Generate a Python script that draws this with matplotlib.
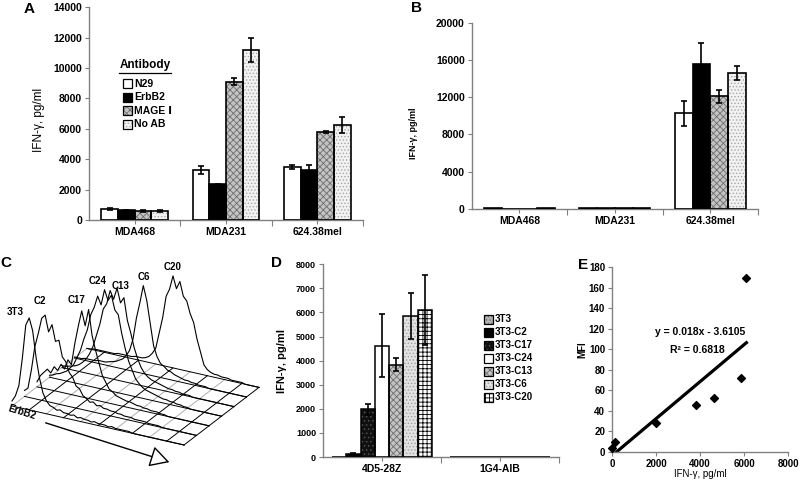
import numpy as np
import matplotlib.pyplot as plt
from matplotlib.patches import Rectangle, FancyArrowPatch

plt.rcParams['font.family'] = ['Liberation Sans', 'DejaVu Sans']
plt.rcParams['hatch.linewidth'] = 0.6

# --- Panel A / B data (IFN-gamma, pg/ml) ---
cell_lines = ['MDA468', 'MDA231', '624.38mel']
antibodies = ['N29', 'ErbB2', 'MAGE Ⅰ', 'No AB']
a_n29 = [730, 3300, 3500]
a_erbb2 = [650, 2350, 3300]
a_mage = [570, 9100, 5780]
a_noab = [600, 11200, 6250]
a_n29_err = [80, 280, 150]
a_erbb2_err = [40, 30, 300]
a_mage_err = [60, 220, 60]
a_noab_err = [50, 780, 550]

b_n29 = [60, 80, 10300]
b_erbb2 = [40, 60, 15600]
b_mage = [40, 60, 12100]
b_noab = [60, 80, 14600]
b_n29_err = [np.nan, np.nan, 1340]
b_erbb2_err = [np.nan, np.nan, 2230]
b_mage_err = [np.nan, np.nan, 700]
b_noab_err = [np.nan, np.nan, 720]

# --- Panel D / E data ---
effectors = ['4D5-28Z', '1G4-AIB']
clones = ['3T3', '3T3-C2', '3T3-C17', '3T3-C24', '3T3-C13', '3T3-C6', '3T3-C20']
d_4d5 = [15, 120, 1980, 4620, 3840, 5850, 6110]
d_4d5_err = [np.nan, 30, 220, 1300, 250, 970, 1450]
d_1g4 = [20, 20, 20, 20, 20, 20, 20]
e_ifn = [0, 120, 1980, 4620, 3840, 5850, 6110]
e_mfi = [4, 10, 28, 53, 46, 72, 169]
fit_slope = 0.018
fit_icpt = -3.6105
fit_r2 = 0.6818

# --- Panel C histograms (ErbB2 staining, 51 channels, relative counts) ---
hist_labels = ['3T3', 'C2', 'C17', 'C24', 'C13', 'C6', 'C20']
erbb2_bins = np.arange(51) / 50
h_3t3 = [5, 11, 22, 50, 84, 92, 80, 54, 34, 20, 13, 9, 8, 6, 7, 5, 5, 4, 5, 3, 4, 3, 3, 2, 3,
         2, 2, 2, 1, 2, 1, 1, 1, 1, 1, 0, 0, 0, 0, 0, 0, 0, 0, 0, 0, 0, 0, 0, 0, 0, 0]
h_c2 = [6, 9, 28, 52, 66, 82, 86, 70, 78, 62, 64, 48, 44, 34, 30, 22, 20, 14, 12, 9, 10, 7, 8, 6, 6,
        5, 5, 4, 4, 3, 3, 3, 2, 2, 2, 2, 1, 1, 1, 1, 0, 0, 0, 0, 0, 0, 0, 0, 0, 0, 0]
h_c17 = [5, 12, 16, 20, 17, 24, 21, 28, 24, 34, 30, 52, 70, 86, 72, 89, 64, 50, 38, 26, 20, 14, 12, 9, 8,
         7, 6, 6, 5, 4, 4, 3, 3, 2, 2, 2, 1, 1, 0, 0, 0, 0, 0, 0, 0, 0, 0, 0, 0, 0, 0]
h_c24 = [2, 3, 5, 6, 8, 10, 14, 18, 26, 34, 46, 56, 72, 80, 92, 84, 100, 90, 96, 82, 78, 60, 46, 34, 26,
         18, 14, 11, 9, 8, 7, 6, 5, 4, 4, 3, 3, 2, 2, 1, 1, 0, 0, 0, 0, 0, 0, 0, 0, 0, 0]
h_c13 = [2, 2, 3, 4, 5, 7, 10, 14, 20, 28, 40, 52, 68, 74, 88, 80, 92, 78, 84, 62, 50, 36, 26, 18, 13,
         10, 8, 7, 6, 5, 4, 3, 3, 2, 2, 1, 1, 1, 0, 0, 0, 0, 0, 0, 0, 0, 0, 0, 0, 0, 0]
h_c6 = [1, 1, 1, 2, 2, 2, 2, 3, 3, 3, 4, 5, 6, 8, 10, 14, 20, 32, 54, 70, 88, 74, 52, 30, 20,
        14, 12, 9, 8, 6, 5, 4, 3, 3, 2, 2, 1, 1, 1, 0, 0, 0, 0, 0, 0, 0, 0, 0, 0, 0, 0]
h_c20 = [0, 0, 1, 1, 1, 1, 1, 1, 1, 2, 2, 2, 2, 2, 3, 3, 3, 4, 6, 10, 16, 32, 48, 70, 78,
         92, 80, 88, 74, 70, 58, 50, 34, 22, 10, 6, 4, 3, 3, 2, 2, 2, 1, 1, 1, 1, 0, 0, 0, 0, 0]
histograms = [h_3t3, h_c2, h_c17, h_c24, h_c13, h_c6, h_c20]

# fill styles: (face, hatch, hatch colour)
WHITE = ('white', None, 'white')
BLACK = ('black', None, 'black')
MAGE = ('#c4c4c4', 'xxxxx', '#6e6e6e')
NOAB = ('#f2f2f2', '.....', '#a8a8a8')
d_styles = [('#b4b4b4', '.....', '#707070'), BLACK, ('#101010', '....', '#505050'), WHITE,
            MAGE, ('#e2e2e2', '.....', '#a0a0a0'), ('white', '++++', 'black')]

GREY = '#808080'

fig = plt.figure(figsize=(8, 4.9), dpi=100)
ov = fig.add_axes([0, 0, 1, 1])
ov.set_xlim(0, 800)
ov.set_ylim(490, 0)
ov.axis('off')


def px_axes(x0, y0, x1, y1):
    return fig.add_axes([x0 / 800, 1 - y1 / 490, (x1 - x0) / 800, (y1 - y0) / 490], facecolor='none')


def style_axes(ax, size):
    for s in ['top', 'right']:
        ax.spines[s].set_visible(False)
    for s in ['left', 'bottom']:
        ax.spines[s].set_color(GREY)
        ax.spines[s].set_linewidth(1.0)
    ax.tick_params(colors=GREY, labelcolor='black', length=3, width=0.8, labelsize=size, pad=2)
    for t in ax.get_xticklabels() + ax.get_yticklabels():
        t.set_fontweight('bold')


def styled_bar(ax, x, h, w, st, lw=1.2):
    fc, hatch, hc = st
    ax.bar(x, h, w, color=fc, edgecolor=hc, hatch=hatch, linewidth=0, zorder=2)
    ax.bar(x, h, w, fill=False, edgecolor='black', linewidth=lw, zorder=3)


def err(ax, x, h, e):
    x = np.asarray(x, float); h = np.asarray(h, float); e = np.asarray(e, float)
    ok = np.isfinite(e)
    ax.errorbar(x[ok], h[ok], yerr=e[ok], fmt='none', ecolor='black', elinewidth=1.2,
                capsize=2.5, capthick=1.2, zorder=4)


def category_axis(ax, labels, pad):
    n = len(labels)
    ax.set_xlim(-0.5, n - 0.5)
    ax.set_xticks(range(n))
    ax.set_xticklabels(labels, fontweight='bold')
    ax.set_xticks([i + 0.5 for i in range(n)], minor=True)
    ax.tick_params(axis='x', which='major', length=0, pad=pad)
    ax.tick_params(axis='x', which='minor', length=4, color=GREY, width=0.8)


def legend_patch(x, y, st, w=9, h=9):
    fc, hatch, hc = st
    ov.add_patch(Rectangle((x, y), w, h, facecolor=fc, edgecolor=hc, hatch=hatch, linewidth=0))
    ov.add_patch(Rectangle((x, y), w, h, fill=False, edgecolor='black', linewidth=0.9))


# ---------------- Panel A ----------------
axA = px_axes(89, 7.3, 363, 220)
xa = np.arange(3)
bw = 0.182
series_a = [(a_n29, a_n29_err, WHITE), (a_erbb2, a_erbb2_err, BLACK),
            (a_mage, a_mage_err, MAGE), (a_noab, a_noab_err, NOAB)]
for i, (vals, e, st) in enumerate(series_a):
    xs = xa + (i - 1.5) * bw
    styled_bar(axA, xs, vals, bw, st)
    err(axA, xs, vals, e)
axA.set_ylim(0, 14000)
axA.set_yticks(range(0, 14001, 2000))
category_axis(axA, cell_lines, 6)
style_axes(axA, 7.5)

# legend A
ov.text(145, 65, 'Antibody', fontsize=8.5, fontweight='bold', ha='center', va='center')
ov.plot([119, 171], [73, 73], color='black', lw=0.9)
for i, (lab, st) in enumerate(zip(antibodies, [WHITE, BLACK, MAGE, NOAB])):
    yy = 84 + i * 13.4
    legend_patch(123, yy - 4.5, st)
    ov.text(134, yy, lab, fontsize=7.5, fontweight='bold', va='center', ha='left')
ov.text(39, 120, 'IFN-γ, pg/ml', rotation=90, fontsize=8.5, ha='center', va='center')

# ---------------- Panel B ----------------
axB = px_axes(471.7, 22.7, 758, 209)
bwb = 0.186
series_b = [(b_n29, b_n29_err, WHITE), (b_erbb2, b_erbb2_err, BLACK),
            (b_mage, b_mage_err, MAGE), (b_noab, b_noab_err, NOAB)]
for i, (vals, e, st) in enumerate(series_b):
    xs = xa + (i - 1.5) * bwb
    styled_bar(axB, xs, vals, bwb, st)
    err(axB, xs, vals, e)
axB.set_ylim(0, 20000)
axB.set_yticks(range(0, 20001, 4000))
category_axis(axB, cell_lines, 6)
style_axes(axB, 7.5)
ov.text(413, 133, 'IFN-γ, pg/ml', rotation=90, fontsize=6.5, fontweight='bold', ha='center', va='center')

# ---------------- Panel C (waterfall of histograms) ----------------
origin = np.array([12.0, 406.0])
width_vec = np.array([172.0, 39.0])
depth_vec = np.array([12.5, -9.6])


def proj(r, u, h):
    u = np.asarray(u, float)
    h = np.asarray(h, float)
    return (origin[0] + r * depth_vec[0] + u * width_vec[0],
            origin[1] + r * depth_vec[1] + u * width_vec[1] - h)


nrow = len(histograms)
for k in range(11):
    u = k / 10
    x0, y0 = proj(0, u, 0)
    x1, y1 = proj(nrow - 1, u, 0)
    col = 'black' if k % 2 == 1 or k == 10 else '#b0b0b0'
    ov.plot([x0, x1], [y0, y1], color=col, lw=0.7)
for r in range(nrow):
    x0, y0 = proj(r, 0, 0)
    x1, y1 = proj(r, 1, 0)
    ov.plot([x0, x1], [y0, y1], color='black', lw=0.7)
for r in range(nrow - 1, -1, -1):
    xs, ys = proj(r, erbb2_bins, histograms[r])
    ov.plot(xs, ys, color='black', lw=0.8)
label_pos = [(15, 312), (40, 301), (76, 300), (98, 281), (121, 286), (144, 277), (173, 267)]
for lab, (lx, ly) in zip(hist_labels, label_pos):
    ov.text(lx, ly, lab, fontsize=7, fontweight='bold', ha='center', va='center')
ov.text(22, 412, 'ErbB2', fontsize=7, fontweight='bold', ha='center', va='center', rotation=-17)
ov.add_patch(FancyArrowPatch((43, 422), (172, 463), arrowstyle='-|>,head_length=1.0,head_width=0.55',
                             mutation_scale=12, facecolor='white', edgecolor='black', lw=1.0))

# ---------------- Panel D ----------------
axD = px_axes(323, 264.3, 559, 457)
xd = np.arange(2)
bwd = 0.121
for i, st in enumerate(d_styles):
    xs = xd + (i - 3) * bwd
    vals = [d_4d5[i], d_1g4[i]]
    styled_bar(axD, xs, vals, bwd, st, lw=1.1)
    err(axD, xs, vals, [d_4d5_err[i], np.nan])
axD.set_ylim(0, 8000)
axD.set_yticks(range(0, 8001, 1000))
category_axis(axD, effectors, 7)
style_axes(axD, 6.5)
axD.tick_params(axis='x', labelsize=7.5)
ov.text(282, 361, 'IFN-γ, pg/ml', rotation=90, fontsize=8, fontweight='bold', ha='center', va='center')
for i, (lab, st) in enumerate(zip(clones, d_styles)):
    yy = 319 + i * 13
    legend_patch(484, yy - 4.5, st)
    ov.text(495, yy, lab, fontsize=7, fontweight='bold', va='center', ha='left')

# ---------------- Panel E ----------------
axE = px_axes(612, 267, 788, 452)
axE.scatter(e_ifn, e_mfi, marker='D', s=16, color='black', zorder=3, clip_on=False)
x_start = -fit_icpt / fit_slope
x_end = max(e_ifn)
axE.plot([x_start, x_end], [0, fit_slope * x_end + fit_icpt], color='black', lw=2.3)
axE.set_xlim(0, 8000)
axE.set_ylim(0, 180)
axE.set_xticks(range(0, 8001, 2000))
axE.set_yticks(range(0, 181, 20))
style_axes(axE, 7)
axE.tick_params(axis='x', pad=2)
ov.text(700, 332, 'y = 0.018x - 3.6105', fontsize=7.5, fontweight='bold', ha='center', va='center')
ov.text(697, 350, f'R² = {fit_r2}', fontsize=7.5, fontweight='bold', ha='center', va='center')
ov.text(582, 350, 'MFI', rotation=90, fontsize=7, fontweight='bold', ha='center', va='center')
ov.text(700, 474, 'IFN-γ, pg/ml', fontsize=7, ha='center', va='center')

# panel letters
for lab, (lx, ly) in zip('ABCDE', [(29, 9), (416, 8), (6, 263), (276, 263), (583, 265)]):
    ov.text(lx, ly, lab, fontsize=11, fontweight='bold', ha='center', va='center')

fig.savefig('out.png', dpi=100)
